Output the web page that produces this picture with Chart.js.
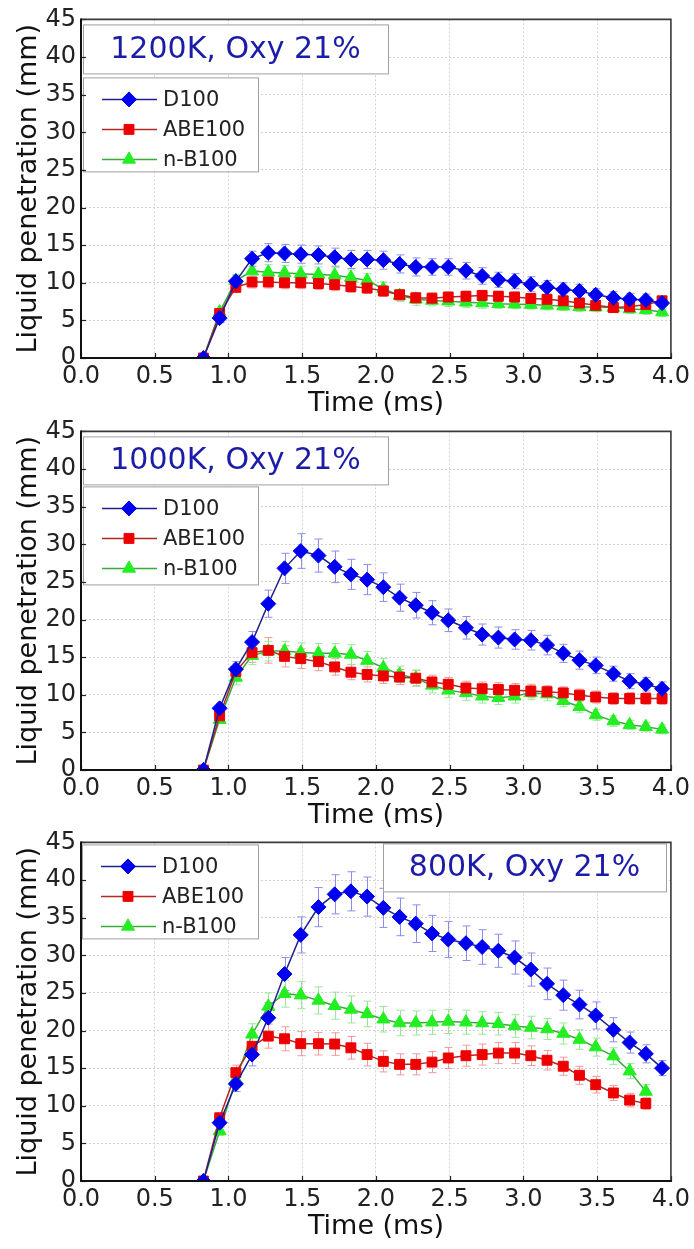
<!DOCTYPE html>
<html><head><meta charset="utf-8">
<script src="https://cdn.jsdelivr.net/npm/chart.js@4.4.0/dist/chart.umd.min.js"></script>
<style>
html,body{margin:0;padding:0;background:#fff;}
body{width:694px;height:1249px;position:relative;overflow:hidden;}
.panel{position:absolute;left:0;width:694px;height:440px;}
canvas{display:block;}
</style></head><body>
<div class="panel" style="top:0px"><canvas id="c1" width="694" height="440"></canvas></div>
<div class="panel" style="top:412px"><canvas id="c2" width="694" height="440"></canvas></div>
<div class="panel" style="top:823px"><canvas id="c3" width="694" height="440"></canvas></div>
<script>
// ---------------- DATA ----------------
const seriesNames = ['D100', 'ABE100', 'n-B100'];
const times = [0.83,0.94,1.05,1.16,1.27,1.38,1.49,1.61,1.72,1.83,1.94,2.05,2.16,2.27,2.38,2.49,2.61,2.72,2.83,2.94,3.05,3.16,3.27,3.38,3.49,3.61,3.72,3.83,3.94];
const xTickLabels = ['0.0','0.5','1.0','1.5','2.0','2.5','3.0','3.5','4.0'];
const yTickLabels = ['0','5','10','15','20','25','30','35','40','45'];
const conditions = ['1200K, Oxy 21%', '1000K, Oxy 21%', '800K, Oxy 21%'];

// 1200 K
const p1D100 = [0,5.3,10.2,13.2,14.0,13.9,13.8,13.7,13.4,13.1,13.1,13.0,12.5,12.1,12.1,12.1,11.6,10.9,10.4,10.2,9.8,9.4,9.1,8.9,8.4,8.0,7.8,7.7,7.3];
const p1ABE100 = [0,5.9,9.4,10.1,10.1,10.0,10.0,9.9,9.75,9.5,9.3,8.9,8.4,8.0,7.95,8.1,8.2,8.3,8.2,8.1,7.9,7.8,7.6,7.3,7.0,6.7,6.8,7.1,7.6];
const p1NB100 = [0,6.1,10.3,11.55,11.4,11.3,11.2,11.1,11.0,10.7,10.3,9.2,8.3,7.8,7.65,7.55,7.4,7.3,7.2,7.15,7.1,7.0,6.9,6.8,6.75,6.7,6.5,6.4,6.1];
const p1D100Err = [0,0.6,0.8,1.0,1.2,1.2,1.2,1.2,1.2,1.2,1.2,1.2,1.2,1.2,1.1,1.1,1.1,1.1,1.0,1.0,1.0,0.9,0.9,0.9,0.8,0.8,0.8,0.8,0.8];
const p1ABE100Err = [0,0.5,0.7,0.8,0.8,0.8,0.8,0.8,0.8,0.8,0.7,0.7,0.7,0.7,0.7,0.7,0.7,0.7,0.7,0.7,0.6,0.6,0.6,0.6,0.6,0.6,0.6,0.6,0.6];
const p1NB100Err = [0,0.5,0.8,1.0,1.0,1.0,1.0,1.0,1.0,1.0,0.9,0.9,0.8,0.8,0.7,0.7,0.7,0.7,0.6,0.6,0.6,0.6,0.6,0.6,0.6,0.6,0.6,0.6,0.6];

// 1000 K
const p2D100 = [0,8.2,13.4,17.0,22.1,26.8,29.1,28.5,27.0,26.0,25.3,24.3,22.9,21.9,20.9,19.9,18.9,18.0,17.6,17.35,17.25,16.6,15.5,14.6,13.9,12.8,11.8,11.4,10.8];
const p2ABE100 = [0,7.2,13.1,15.6,15.9,15.1,14.8,14.4,13.7,13.0,12.7,12.5,12.35,12.2,11.7,11.4,10.9,10.8,10.7,10.6,10.5,10.4,10.25,9.95,9.7,9.5,9.5,9.5,9.5];
const p2NB100 = [0,6.7,12.3,15.2,15.8,15.8,15.6,15.5,15.5,15.35,14.55,13.6,12.7,12.2,11.25,10.6,10.25,9.8,9.6,9.8,10.25,10.1,9.2,8.4,7.3,6.5,6.0,5.75,5.4];
const p2D100Err = [0,0.6,1.0,1.4,1.8,2.0,2.3,2.2,2.1,2.0,2.0,1.9,1.8,1.7,1.6,1.5,1.5,1.4,1.4,1.3,1.3,1.3,1.2,1.2,1.1,1.0,1.0,0.9,0.9];
const p2ABE100Err = [0,0.5,1.0,1.3,1.7,1.4,1.3,1.2,1.1,1.0,1.0,1.0,1.0,1.0,0.9,0.9,0.9,0.9,0.9,0.9,0.9,0.8,0.8,0.8,0.8,0.8,0.8,0.8,0.8];
const p2NB100Err = [0,0.5,1.0,1.2,1.3,1.3,1.3,1.3,1.3,1.3,1.2,1.2,1.1,1.1,1.0,1.0,1.0,0.9,0.9,0.9,0.9,0.9,0.8,0.8,0.7,0.7,0.6,0.6,0.6];

// 800 K
const p3D100 = [0,7.75,12.9,16.8,21.7,27.5,32.7,36.4,38.1,38.5,37.8,36.3,35.1,34.2,32.9,32.1,31.6,31.1,30.6,29.7,28.1,26.2,24.7,23.45,22.0,20.1,18.4,16.9,15.0];
const p3ABE100 = [0,8.4,14.4,17.9,19.25,18.9,18.25,18.25,18.2,17.7,16.8,15.9,15.5,15.5,15.8,16.35,16.65,16.8,17.0,17.0,16.65,16.05,15.25,14.05,12.8,11.7,10.75,10.3];
const p3NB100 = [0,6.65,13.5,19.5,23.2,24.9,24.7,24.0,23.3,22.8,22.2,21.5,21.0,21.0,21.1,21.2,21.1,21.0,20.9,20.6,20.4,20.2,19.6,18.8,17.8,16.6,14.6,11.9];
const p3D100Err = [0,0.6,1.0,1.5,2.0,2.2,2.4,2.6,2.6,2.6,2.6,2.6,2.5,2.5,2.4,2.4,2.3,2.3,2.2,2.2,2.2,2.1,2.0,1.9,1.8,1.6,1.4,1.2,1.0];
const p3ABE100Err = [0,0.6,1.0,1.3,1.6,1.6,1.6,1.5,1.5,1.5,1.5,1.4,1.4,1.4,1.4,1.4,1.4,1.4,1.4,1.4,1.3,1.3,1.2,1.2,1.1,1.0,0.9,0.8];
const p3NB100Err = [0,0.6,1.0,1.4,1.8,1.8,1.8,1.8,1.8,1.8,1.7,1.7,1.7,1.6,1.6,1.6,1.6,1.5,1.5,1.5,1.5,1.4,1.4,1.3,1.2,1.1,1.0,0.9];

// ---------------- STYLE ----------------
const FONT = "'DejaVu Sans', 'Liberation Sans', Arial, sans-serif";
Chart.defaults.font.family = FONT;
const seriesStyle = [
  {pointStyle:'rectRot', radius:7.5, color:'#0000f0', line:'#20208c', err:'#8c8cf2'},
  {pointStyle:'rect', radius:7, color:'#ee0000', line:'#b02828', err:'#f29a9a'},
  {pointStyle:'triangle', radius:7.5, color:'#22ee22', line:'#3aaa3a', err:'#98e898'}
];
// box geometry relative to the chart area top-left
const panelLayout = [
  {cond:{x:2,y:5,w:305,h:49}, leg:{x:2,y:58,w:175,h:94}},
  {cond:{x:2,y:5,w:305,h:48}, leg:{x:2,y:55,w:175,h:98}},
  {cond:{x:302,y:1,w:283,h:48}, leg:{x:1,y:2,w:176,h:94}}
];

function drawMarker(ctx, st, x, y) {
  ctx.save();
  ctx.fillStyle = st.color;
  ctx.strokeStyle = st.color;
  ctx.lineWidth = 1;
  if (Chart.helpers && Chart.helpers.drawPoint) {
    Chart.helpers.drawPoint(ctx, {pointStyle: st.pointStyle, rotation: 0, radius: st.radius, borderWidth: 1}, x, y);
  }
  ctx.restore();
}

const errorBarPlugin = {
  id: 'errbars',
  beforeDatasetsDraw(chart) {
    const ctx = chart.ctx, xs = chart.scales.x, ys = chart.scales.y;
    ctx.save();
    chart.data.datasets.forEach((ds, di) => {
      const st = seriesStyle[di];
      ctx.strokeStyle = st.err;
      ctx.lineWidth = 1;
      ds.data.forEach((p, i) => {
        const e = ds.errors[i];
        if (!e) return;
        const px = Math.round(xs.getPixelForValue(p.x)) + 0.5;
        const y1 = ys.getPixelForValue(p.y + e), y2 = ys.getPixelForValue(p.y - e);
        ctx.beginPath();
        ctx.moveTo(px, y1); ctx.lineTo(px, y2);
        ctx.moveTo(px - 4, y1); ctx.lineTo(px + 4, y1);
        ctx.moveTo(px - 4, y2); ctx.lineTo(px + 4, y2);
        ctx.stroke();
      });
    });
    ctx.restore();
  }
};

const boxesPlugin = {
  id: 'boxes',
  afterDatasetsDraw(chart, args, opts) {
    const ctx = chart.ctx, a = chart.chartArea, L = opts.layout;
    ctx.save();
    // condition label
    const c = L.cond;
    ctx.fillStyle = '#fff'; ctx.strokeStyle = '#a0a0a0'; ctx.lineWidth = 1;
    ctx.fillRect(a.left + c.x, a.top + c.y, c.w, c.h);
    ctx.strokeRect(a.left + c.x + 0.5, a.top + c.y + 0.5, c.w, c.h);
    ctx.fillStyle = '#1c1ca8';
    ctx.font = '30px ' + FONT;
    ctx.textAlign = 'center'; ctx.textBaseline = 'middle';
    ctx.fillText(opts.text, a.left + c.x + c.w / 2, a.top + c.y + c.h / 2 + 1);
    // legend
    const g = L.leg;
    ctx.fillStyle = '#fff';
    ctx.fillRect(a.left + g.x, a.top + g.y, g.w, g.h);
    ctx.strokeStyle = '#a0a0a0';
    ctx.strokeRect(a.left + g.x + 0.5, a.top + g.y + 0.5, g.w, g.h);
    chart.data.datasets.forEach((ds, di) => {
      const st = seriesStyle[di];
      const ry = a.top + g.y + 22 + di * 30;
      const lx = a.left + g.x;
      ctx.strokeStyle = st.line; ctx.lineWidth = 1.5;
      ctx.beginPath(); ctx.moveTo(lx + 19, ry); ctx.lineTo(lx + 74, ry); ctx.stroke();
      drawMarker(ctx, st, lx + 46, ry);
      ctx.fillStyle = '#222';
      ctx.font = '21px ' + FONT;
      ctx.textAlign = 'left'; ctx.textBaseline = 'middle';
      ctx.fillText(ds.label, lx + 80, ry + 1);
    });
    ctx.restore();
  }
};

const framePlugin = {
  id: 'frame',
  afterDraw(chart) {
    const ctx = chart.ctx, a = chart.chartArea, xs = chart.scales.x, ys = chart.scales.y;
    ctx.save();
    // inward ticks
    ctx.strokeStyle = '#222'; ctx.lineWidth = 1.2;
    xs.ticks.forEach(t => {
      const px = Math.round(xs.getPixelForValue(t.value)) + 0.5;
      ctx.beginPath(); ctx.moveTo(px, a.bottom); ctx.lineTo(px, a.bottom - 5); ctx.stroke();
    });
    ys.ticks.forEach(t => {
      const py = Math.round(ys.getPixelForValue(t.value)) + 0.5;
      ctx.beginPath(); ctx.moveTo(a.left, py); ctx.lineTo(a.left + 5, py); ctx.stroke();
    });
    // top / right
    ctx.strokeStyle = '#3a3a3a'; ctx.lineWidth = 1.6;
    ctx.beginPath(); ctx.moveTo(a.left, a.top); ctx.lineTo(a.right, a.top); ctx.lineTo(a.right, a.bottom); ctx.stroke();
    // left / bottom
    ctx.strokeStyle = '#111'; ctx.lineWidth = 2;
    ctx.beginPath(); ctx.moveTo(a.left, a.top - 1); ctx.lineTo(a.left, a.bottom); ctx.lineTo(a.right + 1, a.bottom); ctx.stroke();
    ctx.restore();
  }
};

function makePanel(id, values, errors, condText, layout) {
  const datasets = values.map((vals, di) => {
    const st = seriesStyle[di];
    return {
      label: seriesNames[di],
      data: vals.map((v, i) => ({x: times[i], y: v})),
      errors: errors[di],
      borderColor: st.line,
      borderWidth: 1.5,
      backgroundColor: st.color,
      pointStyle: st.pointStyle,
      pointRadius: st.radius,
      pointBorderColor: st.color,
      pointBackgroundColor: st.color,
      pointBorderWidth: 1,
      tension: 0,
      fill: false
    };
  });
  return new Chart(document.getElementById(id), {
    type: 'line',
    data: {datasets},
    plugins: [errorBarPlugin, boxesPlugin, framePlugin],
    options: {
      responsive: false,
      animation: false,
      devicePixelRatio: 1,
      layout: {padding: {left: 0, right: 22, top: 18, bottom: 20}},
      plugins: {
        legend: {display: false},
        tooltip: {enabled: false},
        boxes: {text: condText, layout: layout}
      },
      scales: {
        x: {
          type: 'linear', min: 0, max: 4,
          afterFit: s => { s.height = 62; },
          ticks: {stepSize: 0.5, autoSkip: false, maxRotation: 0, padding: 4,
                  color: '#222', font: {size: 24},
                  callback: (v, i) => xTickLabels[i]},
          grid: {color: '#d2d2d2', lineWidth: 1, drawTicks: false},
          border: {display: false, dash: [2, 2]},
          title: {display: true, text: 'Time (ms)', color: '#111', font: {size: 27}, padding: 0}
        },
        y: {
          type: 'linear', min: 0, max: 45,
          afterFit: s => { s.width = 81; },
          ticks: {stepSize: 5, autoSkip: false, padding: 5, color: '#222', font: {size: 24},
                  callback: (v, i) => yTickLabels[i]},
          grid: {color: '#d2d2d2', lineWidth: 1, drawTicks: false},
          border: {display: false, dash: [2, 2]},
          title: {display: true, text: 'Liquid penetration (mm)', color: '#111', font: {size: 27}, padding: {top: 13, bottom: 0}}
        }
      }
    }
  });
}

makePanel('c1', [p1D100, p1ABE100, p1NB100], [p1D100Err, p1ABE100Err, p1NB100Err], conditions[0], panelLayout[0]);
makePanel('c2', [p2D100, p2ABE100, p2NB100], [p2D100Err, p2ABE100Err, p2NB100Err], conditions[1], panelLayout[1]);
makePanel('c3', [p3D100, p3ABE100, p3NB100], [p3D100Err, p3ABE100Err, p3NB100Err], conditions[2], panelLayout[2]);
</script>
</body></html>
